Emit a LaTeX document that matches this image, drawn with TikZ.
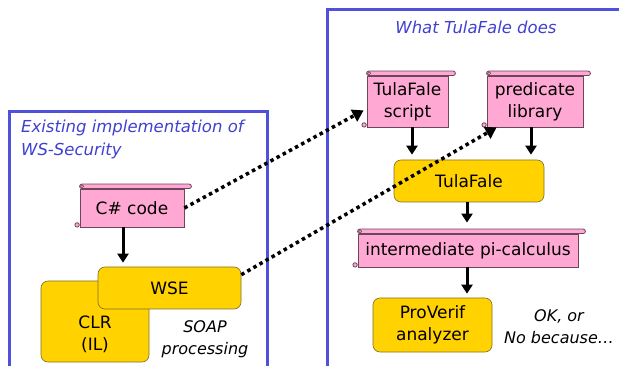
\documentclass[tikz,border=0pt]{standalone}
\usepackage{fontspec}
\setmainfont{DejaVu Sans}
\usetikzlibrary{arrows.meta}

\definecolor{framecolor}{RGB}{80,80,220}
\definecolor{titlecolor}{RGB}{64,64,208}
\definecolor{scrollpink}{RGB}{255,168,212}
\definecolor{scrolledge}{RGB}{110,70,90}
\definecolor{goldfill}{RGB}{255,210,0}
\definecolor{goldedge}{RGB}{130,110,40}

\tikzset{
  frame/.style={draw=framecolor, line width=3pt},
  boxtext/.style={font=\fontsize{17}{22}\selectfont, align=center, inner sep=0pt},
  scrollpart/.style={draw=scrolledge, fill=scrollpink, line width=0.8pt},
  scrollbox/.style={scrollpart, boxtext},
  goldbox/.style={draw=goldedge, fill=goldfill, rounded corners=7pt, line width=0.6pt, boxtext},
  titletext/.style={font=\fontsize{16.5}{23}\selectfont\itshape, text=titlecolor, align=left, inner sep=0pt},
  notetext/.style={font=\fontsize{16}{22}\selectfont\itshape, align=center, inner sep=0pt},
  flowarrow/.style={line width=3pt, -{Triangle[width=11pt,length=9pt]}},
  linkarrow/.style={line width=3.5pt, dash pattern=on 3.5pt off 3.5pt, -{Triangle[width=13pt,length=11pt]}}
}

% roll at the top and curl at the bottom of a scroll node
\newcommand{\scrollroll}[1]{%
  \filldraw[scrollpart, rounded corners=2.2pt] (#1.north west) rectangle ([xshift=7pt,yshift=4.5pt]#1.north east);
  \draw[scrolledge, line width=0.6pt] ([xshift=2.5pt,yshift=2.3pt]#1.north west) circle (1.6pt);
  \filldraw[scrollpart] ([xshift=-2.5pt,yshift=2.5pt]#1.south west) circle (2.2pt);
}

\begin{document}
\begin{tikzpicture}[x=1pt, y=-1pt]
\useasboundingbox (0,0) rectangle (619,366);

% frames
\draw[frame] (9,112) rectangle (267,380);
\draw[frame] (327,10) rectangle (640,380);
\node[titletext, anchor=west] (existing) at (21,139) {Existing implementation of\\WS-Security};
\node[titletext] (whattf) at (476,27) {What TulaFale does};

% left side
\node[goldbox, minimum width=108pt, minimum height=81pt,
  label={[boxtext, yshift=-12.5pt]center:CLR\\(IL)}] (clr) at (95,321.5) {};
\node[goldbox, minimum width=143pt, minimum height=42pt] (wse) at (169.5,288) {WSE};
\node[scrollbox, minimum width=104pt, minimum height=38pt] (csharp) at (132,208) {C\# code};
\scrollroll{csharp}
\node[notetext] (soap) at (205,339) {SOAP\\processing};

\draw[flowarrow, shorten >=4pt] ([xshift=-9pt]csharp.south) -- ([xshift=-9pt]csharp.south |- wse.north);

% right side
\node[scrollbox, minimum width=81pt, minimum height=51pt] (tscript) at (407.5,101.5) {TulaFale\\script};
\scrollroll{tscript}
\node[scrollbox, minimum width=96pt, minimum height=51pt] (predlib) at (535,101.5) {predicate\\library};
\scrollroll{predlib}
\node[goldbox, minimum width=150pt, minimum height=42pt] (tulafale) at (469,181) {TulaFale};
\node[scrollbox, minimum width=220pt, minimum height=33pt] (interm) at (468,250.5) {intermediate pi-calculus};
\scrollroll{interm}
\node[goldbox, minimum width=119pt, minimum height=54pt] (proverif) at (432.5,325) {ProVerif\\analyzer};
\node[notetext] (okno) at (559,327) {OK, or\\No because…};

\draw[flowarrow, shorten >=5pt] ([xshift=4.5pt]tscript.south) -- ([xshift=4.5pt]tscript.south |- tulafale.north);
\draw[flowarrow, shorten >=5pt] ([xshift=-4pt]predlib.south) -- ([xshift=-4pt]predlib.south |- tulafale.north);
\draw[flowarrow, shorten >=11pt] ([xshift=-2pt]tulafale.south) -- ([xshift=-2pt]tulafale.south |- interm.north);
\draw[flowarrow, shorten >=4pt] ([xshift=-1pt]interm.south) -- ([xshift=-1pt]interm.south |- proverif.north);

% links from the implementation to the model
\draw[linkarrow] (csharp.east) -- ([xshift=-3pt,yshift=17pt]tscript.south west);
\draw[linkarrow] ([yshift=-8pt]wse.north east) -- ([xshift=10pt]predlib.south west);
\end{tikzpicture}
\end{document}
